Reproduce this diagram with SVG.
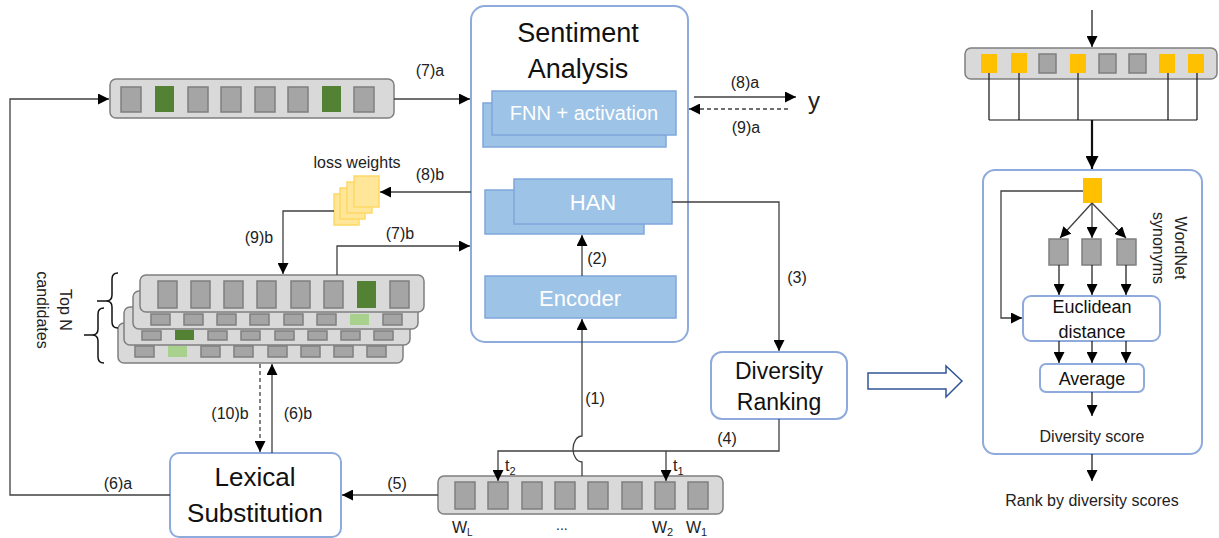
<svg xmlns="http://www.w3.org/2000/svg" width="1219" height="538" viewBox="0 0 1219 538">
<style>
text{font-family:"Liberation Sans",Arial,sans-serif;fill:#222}
.lbl{font-size:16px;text-anchor:middle}
.ln{fill:none;stroke:#404040;stroke-width:1.3}
.lnk{fill:none;stroke:#111;stroke-width:1.2}
.dash{stroke-dasharray:4,3}
.bar{fill:#d9d9d9;stroke:#7f7f7f;stroke-width:1.5}
.cell{fill:#a5a5a5;stroke:#7f7f7f;stroke-width:1.5}
.dg{fill:#548235}
.lg{fill:#a9d18e}
.yel{fill:#ffc000}
.cont{fill:#fff;stroke:#8faadc;stroke-width:2}
.blue{fill:#9dc3e6;stroke:#7fa7dc;stroke-width:1.5}
.wt{fill:#fff;text-anchor:middle}
.big{text-anchor:middle;fill:#111}
.page{fill:#ffe699;stroke:#ffd966;stroke-width:1.5}
</style>
<defs>
<marker id="ah" viewBox="0 0 10 10" refX="10" refY="5" markerWidth="11" markerHeight="11" markerUnits="userSpaceOnUse" orient="auto"><path d="M0,0 L10,5 L0,10 z" fill="#000"/></marker>
<marker id="ahb" viewBox="0 0 10 10" refX="10" refY="5" markerWidth="13" markerHeight="13" markerUnits="userSpaceOnUse" orient="auto"><path d="M0,0 L10,5 L0,10 z" fill="#000"/></marker>
</defs>

<g id="top-vector">
<rect class="bar" x="110" y="79" width="284" height="39" rx="6"/>
<rect class="cell" x="121" y="87" width="20" height="25"/>
<rect class="dg" x="155" y="86" width="19" height="26"/>
<rect class="cell" x="188" y="87" width="20" height="25"/>
<rect class="cell" x="221" y="87" width="20" height="25"/>
<rect class="cell" x="255" y="87" width="20" height="25"/>
<rect class="cell" x="288" y="87" width="20" height="25"/>
<rect class="dg" x="322" y="86" width="19" height="26"/>
<rect class="cell" x="354" y="87" width="20" height="25"/>
</g>

<g id="loss-weights">
<text class="lbl" x="357" y="168">loss weights</text>
<rect class="page" x="334" y="194" width="25" height="31"/>
<rect class="page" x="340" y="188" width="25" height="31"/>
<rect class="page" x="347" y="182" width="25" height="31"/>
<rect class="page" x="354" y="176" width="25" height="31"/>
</g>

<g id="top-n-candidates">
<rect class="bar" x="118" y="323" width="285" height="40" rx="6"/>
<rect class="cell" x="135" y="346" width="19" height="11"/>
<rect class="lg" x="168" y="346" width="19" height="11"/>
<rect class="cell" x="201" y="346" width="19" height="11"/>
<rect class="cell" x="234" y="346" width="19" height="11"/>
<rect class="cell" x="268" y="346" width="19" height="11"/>
<rect class="cell" x="301" y="346" width="19" height="11"/>
<rect class="cell" x="334" y="346" width="19" height="11"/>
<rect class="cell" x="367" y="346" width="19" height="11"/>
<rect class="bar" x="124" y="307" width="286" height="38" rx="6"/>
<rect class="cell" x="142" y="331" width="19" height="9"/>
<rect class="dg" x="175" y="330" width="19" height="10"/>
<rect class="cell" x="208" y="331" width="19" height="9"/>
<rect class="cell" x="241" y="331" width="19" height="9"/>
<rect class="cell" x="275" y="331" width="19" height="9"/>
<rect class="cell" x="308" y="331" width="19" height="9"/>
<rect class="cell" x="341" y="331" width="19" height="9"/>
<rect class="cell" x="374" y="331" width="19" height="9"/>
<rect class="bar" x="133" y="291" width="285" height="38" rx="6"/>
<rect class="cell" x="151" y="314" width="19" height="11"/>
<rect class="cell" x="184" y="314" width="19" height="11"/>
<rect class="cell" x="217" y="314" width="19" height="11"/>
<rect class="cell" x="250" y="314" width="19" height="11"/>
<rect class="cell" x="284" y="314" width="19" height="11"/>
<rect class="cell" x="317" y="314" width="19" height="11"/>
<rect class="lg" x="350" y="314" width="19" height="11"/>
<rect class="cell" x="383" y="314" width="19" height="11"/>
<rect class="bar" x="140" y="275" width="284" height="37" rx="6"/>
<rect class="cell" x="158" y="281" width="19" height="27"/>
<rect class="cell" x="191" y="281" width="19" height="27"/>
<rect class="cell" x="224" y="281" width="19" height="27"/>
<rect class="cell" x="257" y="281" width="19" height="27"/>
<rect class="cell" x="291" y="281" width="19" height="27"/>
<rect class="cell" x="324" y="281" width="19" height="27"/>
<rect class="dg" x="357" y="281" width="19" height="27"/>
<rect class="cell" x="390" y="281" width="19" height="27"/>
<path fill="none" stroke="#111" stroke-width="1.5" d="M118,273 Q112,273 112,279 L112,295 Q112,301 106,301 L97,301 M106,301 Q112,301 112,307 L112,322 Q112,328 118,328"/>
<path fill="none" stroke="#111" stroke-width="1.5" d="M104,308 Q98,308 98,314 L98,329 Q98,335 92,335 L84,335 M92,335 Q98,335 98,341 L98,357 Q98,363 104,363"/>
<text class="lbl" x="65" y="310" dominant-baseline="central" transform="rotate(90 65 310)">Top N</text>
<text class="lbl" x="42" y="310" dominant-baseline="central" transform="rotate(90 42 310)">candidates</text>
</g>

<g id="sentiment-analysis">
<rect class="cont" x="471" y="6" width="217" height="336" rx="14"/>
<text class="big" x="578" y="42" style="font-size:27px">Sentiment</text>
<text class="big" x="578" y="78" style="font-size:27px">Analysis</text>
<rect class="blue" x="483" y="103" width="183" height="44"/>
<rect class="blue" x="492" y="91" width="184" height="44"/>
<text class="wt" x="584" y="120" style="font-size:20px">FNN + activation</text>
<rect class="blue" x="485" y="190" width="159" height="44"/>
<rect class="blue" x="514" y="179" width="158" height="45"/>
<text class="wt" x="593" y="210" style="font-size:22px">HAN</text>
<rect class="blue" x="485" y="276" width="191" height="42"/>
<text class="wt" x="580" y="306" style="font-size:22px">Encoder</text>
</g>

<g id="diversity-ranking">
<rect class="cont" x="711" y="352" width="136" height="67" rx="11"/>
<text class="big" x="779" y="379" style="font-size:23px">Diversity</text>
<text class="big" x="779" y="410" style="font-size:23px">Ranking</text>
</g>

<g id="lexical-substitution">
<rect class="cont" x="170" y="453" width="171" height="84" rx="9"/>
<text class="big" x="255" y="486" style="font-size:26px">Lexical</text>
<text class="big" x="255" y="522" style="font-size:26px">Substitution</text>
</g>

<g id="input-vector">
<rect class="bar" x="438" y="476" width="285" height="38" rx="6"/>
<rect class="cell" x="455" y="482" width="20" height="27"/>
<rect class="cell" x="488" y="482" width="20" height="27"/>
<rect class="cell" x="522" y="482" width="20" height="27"/>
<rect class="cell" x="555" y="482" width="20" height="27"/>
<rect class="cell" x="588" y="482" width="20" height="27"/>
<rect class="cell" x="622" y="482" width="20" height="27"/>
<rect class="cell" x="655" y="482" width="20" height="27"/>
<rect class="cell" x="688" y="482" width="20" height="27"/>
</g>

<g id="right-vector">
<rect class="bar" x="965" y="48" width="252" height="31" rx="6"/>
<rect class="yel" x="981" y="54" width="16" height="19"/>
<rect class="yel" x="1011" y="53" width="16" height="20"/>
<rect class="cell" x="1039" y="54" width="17" height="19"/>
<rect class="yel" x="1070" y="54" width="16" height="19"/>
<rect class="cell" x="1099" y="54" width="17" height="19"/>
<rect class="cell" x="1129" y="54" width="17" height="19"/>
<rect class="yel" x="1159" y="54" width="16" height="19"/>
<rect class="yel" x="1188" y="54" width="16" height="19"/>
</g>

<g id="diversity-detail">
<rect class="cont" x="983" y="170" width="219" height="284" rx="12"/>
<rect class="yel" x="1083" y="178" width="19" height="25"/>
<rect class="cell" x="1049" y="239" width="19" height="26"/>
<rect class="cell" x="1082" y="239" width="19" height="26"/>
<rect class="cell" x="1117" y="239" width="19" height="26"/>
<text class="lbl" x="1180" y="248" dominant-baseline="central" transform="rotate(90 1180 248)">WordNet</text>
<text class="lbl" x="1158" y="248" dominant-baseline="central" transform="rotate(90 1158 248)">synonyms</text>
<text class="lbl" x="1092" y="442">Diversity score</text>
</g>

<g id="euclidean-distance">
<rect class="cont" x="1023" y="296" width="137" height="45" rx="8"/>
<text class="big" x="1092" y="313" style="font-size:18px">Euclidean</text>
<text class="big" x="1092" y="338" style="font-size:18px">distance</text>
</g>

<g id="average">
<rect class="cont" x="1040" y="364" width="104" height="28" rx="6"/>
<text class="big" x="1092" y="385" style="font-size:18px">Average</text>
</g>

<g id="rank-output">
<text class="lbl" x="1092" y="506">Rank by diversity scores</text>
</g>

<g id="connectors">
<path class="ln" d="M170,495 H10 V99 H109" marker-end="url(#ah)"/>
<path class="ln" d="M394,99 H470" marker-end="url(#ah)"/>
<path class="ln" d="M471,192 H380" marker-end="url(#ah)"/>
<path class="ln" d="M334,211 H283 V274" marker-end="url(#ah)"/>
<path class="ln" d="M337,275 V246 H470" marker-end="url(#ah)"/>
<path class="ln dash" d="M260,364 V452" marker-end="url(#ah)"/>
<path class="ln" d="M272,453 V364" marker-end="url(#ah)"/>
<path class="ln" d="M438,495 H342" marker-end="url(#ah)"/>
<path class="ln" d="M582,476 V462 A9,13 0 0 1 582,436 V319" marker-end="url(#ah)"/>
<path class="ln" d="M582,276 V235" marker-end="url(#ah)"/>
<path class="ln" d="M672,202 H779 V351" marker-end="url(#ah)"/>
<path class="ln" d="M779,419 V451 H498 V481" marker-end="url(#ah)"/>
<path class="ln" d="M666,451 V481" marker-end="url(#ah)"/>
<path class="ln" d="M694,97 H796" marker-end="url(#ah)"/>
<path class="ln dash" d="M788,109 H689" marker-end="url(#ah)"/>
<path class="lnk" d="M1092,10 V47" marker-end="url(#ah)"/>
<path class="lnk" d="M989,73 V120 M1019,73 V120 M1078,73 V120 M1168,73 V120 M1197,73 V120 M989,120 H1197"/>
<path fill="none" stroke="#111" stroke-width="2.2" d="M1092,120 V169" marker-end="url(#ahb)"/>
<path class="ln" d="M1083,191 H1001 V318 H1022" marker-end="url(#ah)"/>
<path class="ln" d="M1092,203 L1060,238" marker-end="url(#ah)"/>
<path class="ln" d="M1092,203 V238" marker-end="url(#ah)"/>
<path class="ln" d="M1092,203 L1126,238" marker-end="url(#ah)"/>
<path class="lnk" d="M1059,265 V295" marker-end="url(#ah)"/>
<path class="lnk" d="M1092,265 V295" marker-end="url(#ah)"/>
<path class="lnk" d="M1126,265 V295" marker-end="url(#ah)"/>
<path class="lnk" d="M1059,341 V363" marker-end="url(#ah)"/>
<path class="lnk" d="M1092,341 V363" marker-end="url(#ah)"/>
<path class="lnk" d="M1126,341 V363" marker-end="url(#ah)"/>
<path class="lnk" d="M1092,392 V416" marker-end="url(#ah)"/>
<path class="lnk" d="M1092,454 V481" marker-end="url(#ah)"/>
<polygon points="868,373 946,373 946,366 962,381 946,397 946,389 868,389" fill="#fff" stroke="#2f5597" stroke-width="1.5"/>
</g>

<g id="labels">
<text class="lbl" x="430" y="76">(7)a</text>
<text class="lbl" x="430" y="180">(8)b</text>
<text class="lbl" x="259" y="243">(9)b</text>
<text class="lbl" x="400" y="239">(7)b</text>
<text class="lbl" x="230" y="419">(10)b</text>
<text class="lbl" x="298" y="419">(6)b</text>
<text class="lbl" x="118" y="489">(6)a</text>
<text class="lbl" x="397" y="489">(5)</text>
<text class="lbl" x="595" y="404">(1)</text>
<text class="lbl" x="597" y="264">(2)</text>
<text class="lbl" x="797" y="283">(3)</text>
<text class="lbl" x="727" y="444">(4)</text>
<text class="lbl" x="745" y="88">(8)a</text>
<text class="lbl" x="746" y="133">(9)a</text>
<text x="808" y="109" style="font-size:24px">y</text>
<text x="505" y="471" style="font-size:16px">t<tspan style="font-size:11px" dy="4">2</tspan></text>
<text x="673" y="471" style="font-size:16px">t<tspan style="font-size:11px" dy="4">1</tspan></text>
<text x="452" y="533" style="font-size:16px">W<tspan style="font-size:10px" dy="3">L</tspan></text>
<text x="556" y="530" style="font-size:14px">...</text>
<text x="652" y="533" style="font-size:16px">W<tspan style="font-size:11px" dy="3">2</tspan></text>
<text x="686" y="533" style="font-size:16px">W<tspan style="font-size:11px" dy="3">1</tspan></text>
</g>
</svg>
